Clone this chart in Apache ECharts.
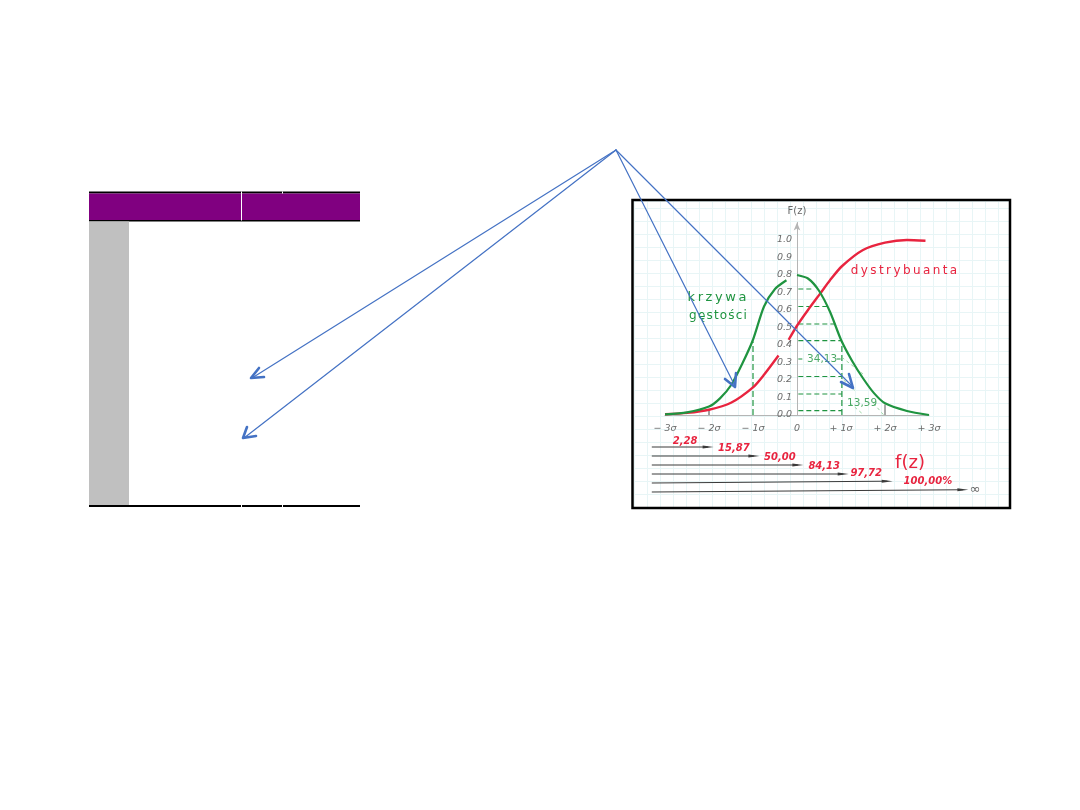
<!DOCTYPE html>
<html><head><meta charset="utf-8">
<style>html,body{margin:0;padding:0;background:#fff}#c{width:1080px;height:810px}</style>
<script src="https://cdn.jsdelivr.net/npm/echarts@6/dist/echarts.min.js"></script>
</head><body><div id="c"></div>
<script>
// ---- data ----
var sigmaTicks = [-3,-2,-1,0,1,2,3];
var sigmaLabels = ['− 3σ','− 2σ','− 1σ','0','+ 1σ','+ 2σ','+ 3σ'];
var densityLeftX  = [-3,-2.5,-2,-1.75,-1.5,-1.25,-1,-0.75,-0.5,-0.24];
var densityLeftY  = [0.004,0.015,0.048,0.095,0.17,0.29,0.43,0.62,0.72,0.77];
var densityRightX = [0,0.25,0.5,0.75,1,1.25,1.5,1.75,2,2.5,3];
var densityRightY = [0.8,0.78,0.71,0.59,0.43,0.31,0.21,0.125,0.067,0.023,0];
var cdfLeftX  = [-3,-2.5,-2,-1.5,-1,-0.75,-0.42];
var cdfLeftY  = [0.004,0.012,0.03,0.07,0.158,0.23,0.34];
var cdfRightX = [-0.19,0,0.25,0.53,0.75,1.02,1.5,2,2.5,2.92];
var cdfRightY = [0.43,0.51,0.6,0.695,0.77,0.85,0.943,0.985,1.0,0.996];
var levelY   = [0.72,0.62,0.52,0.425,0.22,0.12,0.025];
var levelEnd = [0.34,0.72,0.87,1.02,1.02,1.02,1.02];
var areaValues = ['34,13','13,59'];
var cumValues = ['2,28','15,87','50,00','84,13','97,72','100,00%'];
var cumEnd = [-2.02,-0.98,0.02,1.05,2.05,3.77];
var cumRowStart = [1,2,3,4,5,6];
var cumRowEnd = [1,2,3,4,4.8,5.75];

// ---- layout ----
var PX = 44, X0 = 797, Y0 = 415, PY = 175;
var axisFont = {color:'#6b6b6b',fontFamily:'"DejaVu Sans"',fontStyle:'italic',fontSize:9.5};
var labelOffsets = [[-23,-6],[-20,-8],[-18,-8],[-19,-8],[-21,-8],[-35,-8]];
function zip(a,b){return a.map(function(v,i){return [v,b[i]];});}
function line(data,color,width,type,extra){
  var s={type:'line',xAxisIndex:0,yAxisIndex:0,data:data,symbol:'none',silent:true,clip:false,
    itemStyle:{color:color},lineStyle:{color:color,width:width,type:type||'solid'},z:3};
  if(extra) for(var k in extra) s[k]=extra[k];
  return s;
}
var G='#1f9440', LG='#8fd09a', R='#e8243f', BL='#4472c4';
var series=[];
levelY.forEach(function(y,i){ series.push(line([[0.03,y],[levelEnd[i],y]],G,1.2,[5,3])); });
series.push(line([[0.03,0.32],[0.14,0.32]],G,1.2,[4,2]));
series.push(line([[0.9,0.32],[1.02,0.32]],G,1.2,[4,2]));
series.push(line([[-1,0],[-1,0.42]],G,1.2,[6,3]));
series.push(line([[1.02,0],[1.02,0.42]],G,1.2,[6,3]));
series.push(line([[-2,0],[-2,0.035]],'#444',1));
series.push(line([[2,0],[2,0.06]],'#555',1));
[[[1.02,0.33],[1.52,0.23]],[[1.06,0.2],[1.36,0.13]],[[1.21,0.067],[1.52,0]],[[1.74,0.067],[1.97,0]]].forEach(function(d){
  series.push(line(d,LG,0.9,[3,3]));
});
var curve={smooth:0.25};
series.push(line(zip(cdfLeftX,cdfLeftY),R,2.4,null,Object.assign({z:4},curve)));
series.push(line(zip(cdfRightX,cdfRightY),R,2.4,null,Object.assign({z:4},curve)));
series.push(line(zip(densityLeftX,densityLeftY),G,2.2,null,Object.assign({z:5},curve)));
series.push(line(zip(densityRightX,densityRightY),G,2.2,null,Object.assign({z:5},curve)));
series.push({type:'scatter',xAxisIndex:0,yAxisIndex:0,symbolSize:0,silent:true,z:6,
  data:[{value:[0.57,0.32],name:areaValues[0]},{value:[1.48,0.067],name:areaValues[1]}],
  label:{show:true,position:'inside',formatter:'{b}',color:G,fontSize:10.5,fontFamily:'"DejaVu Sans"'}});
cumEnd.forEach(function(e,i){
  series.push({type:'line',xAxisIndex:1,yAxisIndex:1,symbol:'none',silent:true,clip:false,z:3,
    lineStyle:{color:'#3a3a3a',width:1},
    data:[[-3.3,cumRowStart[i]],{value:[e,cumRowEnd[i]],symbol:'triangle',symbolSize:[3,11],symbolRotate:-90,
      itemStyle:{color:'#3a3a3a'},
      label:{show:true,formatter:cumValues[i],offset:labelOffsets[i],position:'inside',color:R,
        fontSize:10,fontWeight:'bold',fontStyle:'italic',fontFamily:'"DejaVu Sans"'}}]});
});
function txt(x,y,s,font,color){return {type:'text',x:x,y:y,z:60,silent:true,
  style:{text:s,font:font,fill:color,align:'center',verticalAlign:'middle'}};}
function seg(pts,c,w){return {type:'polyline',z:70,silent:true,shape:{points:pts},style:{stroke:c,lineWidth:w,fill:null,lineCap:'round',lineJoin:'round'}};}
function rect(x,y,w,h,c,z){return {type:'rect',z:z||1,silent:true,shape:{x:x,y:y,width:w,height:h},style:{fill:c}};}
var hair='\u200A', thin='\u2009';
var graphics=[
  rect(89,191.5,271,2,'#000'),
  rect(89,193.5,271,26.5,'#800080'),
  rect(89,220,271,1.5,'#000'),
  rect(241,191.5,1,29,'#fff',2),
  rect(282,191.5,1,2,'#fff',2),
  rect(89,221.5,40,283.5,'#c0c0c0'),
  rect(89,505,271,2,'#000'),
  rect(241,505,1,2,'#fff',2),
  rect(282,505,1,2,'#fff',2),
  {type:'rect',z:50,silent:true,shape:{x:632.5,y:200,width:377.5,height:308},style:{fill:null,stroke:'#000',lineWidth:2.5}},
  txt(797,211,'F(z)','10px "DejaVu Sans"','#666'),
  txt(904,271,'dystrybuanta'.split('').join(thin),'12px "DejaVu Sans"',R),
  txt(717,298,'krzywa'.split('').join(thin),'13px "DejaVu Sans"',G),
  txt(718,316,'gęstości'.split('').join(hair),'12px "DejaVu Sans"',G),
  txt(910,463,'f(z)','18px "DejaVu Sans"',R),
  txt(975,490,'∞','13px "DejaVu Sans"','#666'),
  seg([[616,150],[252,378]],BL,1.2),
  seg([[616,150],[244,438]],BL,1.2),
  seg([[616,150],[735,386]],BL,1.2),
  seg([[616,150],[853,387]],BL,1.2),
  seg([[259,368],[251,378],[264,377]],BL,2.6),
  seg([[247,427],[243,438],[256,436]],BL,2.6),
  seg([[725,379],[735,387],[736,373]],BL,2.6),
  seg([[841,382],[853,388],[849,374]],BL,2.6)
];
var axisGrey={color:'#b5b5b5',width:1};
var option={
  animation:false,backgroundColor:'#fff',
  grid:[
    {left:X0-3*PX,width:6*PX,top:Y0-1.1*PY,height:1.1*PY},
    {left:X0-3.7*PX,width:8.5*PX,top:442.5,height:54},
    {left:634,width:375,top:201,height:306},
    {left:X0,width:PX,top:Y0-1.1*PY,height:1.1*PY}
  ],
  xAxis:[
    {type:'value',gridIndex:0,min:-3,max:3,interval:1,
     axisLine:{onZero:false,lineStyle:axisGrey},axisTick:{show:false},splitLine:{show:false},
     axisLabel:Object.assign({margin:9,showMinLabel:true,showMaxLabel:true,
       formatter:function(v){return sigmaLabels[sigmaTicks.indexOf(v)];}},axisFont)},
    {type:'value',gridIndex:1,min:-3.7,max:4.8,show:false},
    {type:'value',gridIndex:2,min:0,max:375,interval:13,axisLine:{show:false},axisTick:{show:false},axisLabel:{show:false},
     splitLine:{show:true,lineStyle:{color:'#e8f5f6',width:1}}},
    {type:'value',gridIndex:3,min:0,max:1,show:false}
  ],
  yAxis:[
    {type:'value',gridIndex:0,min:0,max:1.1,show:false},
    {type:'value',gridIndex:1,min:0.5,max:6.5,inverse:true,show:false},
    {type:'value',gridIndex:2,min:0,max:306,interval:13,axisLine:{show:false},axisTick:{show:false},axisLabel:{show:false},
     splitLine:{show:true,lineStyle:{color:'#e8f5f6',width:1}}},
    {type:'value',gridIndex:3,min:0,max:1.1,interval:0.1,position:'left',
     axisLine:{show:true,onZero:false,lineStyle:axisGrey,symbol:['none','arrow'],symbolSize:[5,8]},axisTick:{show:false},splitLine:{show:false},
     axisLabel:Object.assign({margin:5,formatter:function(v){return v>1.01?'':v.toFixed(1);}},axisFont)}
  ],
  series:series,
  graphic:{elements:graphics}
};
echarts.init(document.getElementById('c'),null,{renderer:'canvas'}).setOption(option);
</script></body></html>
